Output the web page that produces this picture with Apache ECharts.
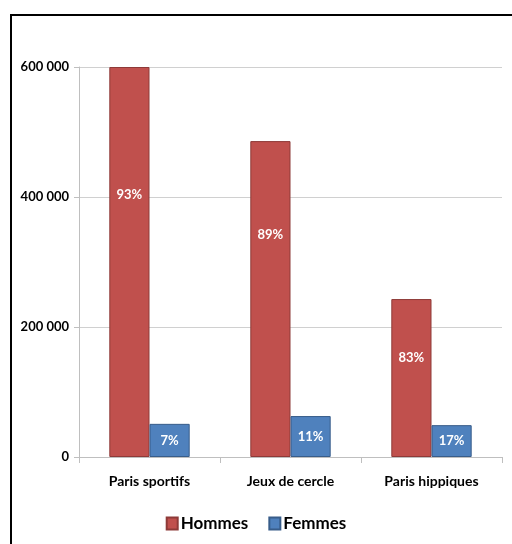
<!DOCTYPE html>
<html><head><meta charset="utf-8">
<script src="https://cdn.jsdelivr.net/npm/echarts@6/dist/echarts.min.js"></script>
<style>html,body{margin:0;padding:0;background:#fff}#c{width:512px;height:544px}</style>
</head><body><div id="c"></div>
<script>
const categories = ['Paris sportifs', 'Jeux de cercle', 'Paris hippiques'];
const hommes = [600000, 486000, 243000];
const femmes = [51000, 63000, 49000];
const hommesPct = ['93%', '89%', '83%'];
const femmesPct = ['7%', '11%', '17%'];
const yTicks = [0, 200000, 400000, 600000];

const font = 'Lato, "Open Sans", sans-serif';
const hOffsets = [-67, -64, -20];
const chart = echarts.init(document.getElementById('c'));
chart.setOption({
  animation: false,
  graphic: [{type: 'rect', shape: {x: 11, y: 15, width: 520, height: 540}, style: {fill: 'none', stroke: '#000', lineWidth: 2}}],
  grid: {left: 79, right: 10, top: 67, bottom: 87},
  legend: {
    bottom: 7, left: 'center', icon: 'rect', itemWidth: 11, itemHeight: 12, itemGap: 20,
    textStyle: {fontFamily: font, fontSize: 17, fontWeight: 'bold', color: '#000', padding: [0, 0, 0, -2]},
    data: ['Hommes', 'Femmes']
  },
  xAxis: {
    type: 'category', data: categories,
    axisLine: {lineStyle: {color: '#bfbfbf'}},
    axisTick: {show: true, length: 6, lineStyle: {color: '#bfbfbf'}},
    axisLabel: {color: '#000', fontFamily: font, fontSize: 14, fontWeight: 'bold', margin: 17}
  },
  yAxis: {
    type: 'value', min: 0, max: 600000, interval: 200000,
    axisLine: {show: true, lineStyle: {color: '#bfbfbf'}},
    axisTick: {show: true, length: 5, lineStyle: {color: '#bfbfbf'}},
    splitLine: {lineStyle: {color: '#d0d0d0'}},
    axisLabel: {color: '#000', fontFamily: font, fontSize: 13, fontWeight: 'bold', margin: 10,
      formatter: v => yTicks.includes(v) ? String(v).replace(/\B(?=(\d{3})+(?!\d))/g, ' ') : ''}
  },
  series: [
    {
      name: 'Hommes', type: 'bar', barGap: '0%', barCategoryGap: '43%',
      itemStyle: {color: '#C0504D', borderColor: '#8e3a38', borderWidth: 1},
      data: hommes.map((v, i) => ({value: v, label: {offset: [0, hOffsets[i]]}})),
      label: {show: true, position: 'inside', color: '#fff', fontFamily: font, fontSize: 13, fontWeight: 'bold',
        formatter: p => hommesPct[p.dataIndex]}
    },
    {
      name: 'Femmes', type: 'bar',
      itemStyle: {color: '#4F81BD', borderColor: '#385d8a', borderWidth: 1},
      data: femmes,
      label: {show: true, position: 'inside', color: '#fff', fontFamily: font, fontSize: 13, fontWeight: 'bold',
        formatter: p => femmesPct[p.dataIndex]}
    }
  ]
});
</script></body></html>
